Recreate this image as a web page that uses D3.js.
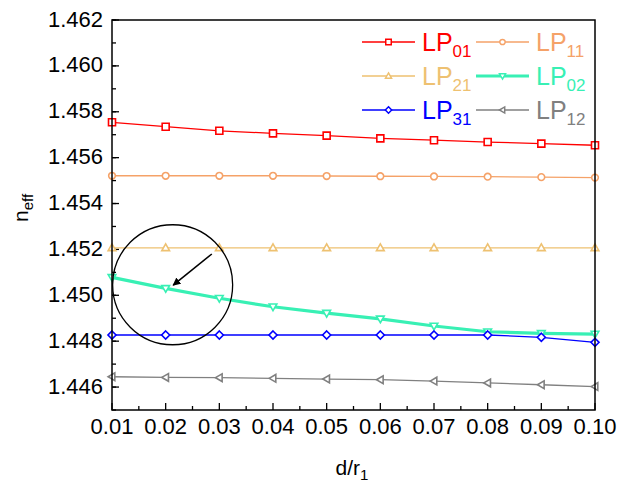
<!DOCTYPE html>
<html>
<head>
<meta charset="utf-8">
<script src="https://cdn.jsdelivr.net/npm/d3@7"></script>
<style>
  body { margin: 0; background: #fff; }
  svg { display: block; font-family: Arial, "Liberation Sans", sans-serif; }
</style>
</head>
<body>
<div id="chart"></div>
<script>
// d/r1 sample positions
const ratios = [0.01, 0.02, 0.03, 0.04, 0.05, 0.06, 0.07, 0.08, 0.09, 0.10];

// effective index of each mode
const lp01 = [1.45754, 1.45735, 1.45717, 1.45706, 1.45696, 1.45684, 1.45676, 1.45668, 1.45661, 1.45654];
const lp11 = [1.45521, 1.45521, 1.45521, 1.45521, 1.45520, 1.45519, 1.45518, 1.45517, 1.45515, 1.45513];
const lp21 = [1.45207, 1.45207, 1.45207, 1.45207, 1.45207, 1.45207, 1.45207, 1.45207, 1.45207, 1.45207];
const lp02 = [1.45078, 1.45030, 1.44987, 1.44950, 1.44922, 1.44897, 1.44866, 1.44841, 1.44834, 1.44831];
const lp31 = [1.44827, 1.44827, 1.44827, 1.44827, 1.44827, 1.44827, 1.44827, 1.44827, 1.44817, 1.44795];
const lp12 = [1.44645, 1.44642, 1.44641, 1.44638, 1.44635, 1.44632, 1.44626, 1.44618, 1.44610, 1.44602];

const modes = [
  { sub: "01", values: lp01, color: "#ff0000", shape: "square", width: 1.3 },
  { sub: "11", values: lp11, color: "#f5a268", shape: "circle", width: 1.3 },
  { sub: "21", values: lp21, color: "#eec171", shape: "triUp", width: 1.3 },
  { sub: "02", values: lp02, color: "#38f0b4", shape: "triDown", width: 3.2 },
  { sub: "31", values: lp31, color: "#0000ff", shape: "diamond", width: 1.3 },
  { sub: "12", values: lp12, color: "#808080", shape: "triLeft", width: 1.3 }
];

const yTicks = [1.446, 1.448, 1.450, 1.452, 1.454, 1.456, 1.458, 1.460, 1.462];

// annotation: circle around the LP02 start, arrow pointing at the 0.02 point
const ringCenter = [0.0213, 1.45046];
const arrowFrom = [0.0286, 1.45180];
const arrowTo = [0.0214, 1.45044];

const width = 632, height = 482;
const margin = { top: 20, right: 37, bottom: 72, left: 112 };

const x = d3.scaleLinear().domain([0.01, 0.10]).range([margin.left, width - margin.right]);
const y = d3.scaleLinear().domain([1.445, 1.462]).range([height - margin.bottom, margin.top]);

const svg = d3.select("#chart").append("svg")
  .attr("width", width)
  .attr("height", height);

svg.append("defs").append("marker")
  .attr("id", "head")
  .attr("viewBox", "0 0 10 10")
  .attr("refX", 9).attr("refY", 5)
  .attr("markerWidth", 5).attr("markerHeight", 5)
  .attr("orient", "auto")
  .append("path")
  .attr("d", "M0,0 L10,5 L0,10 Z")
  .attr("fill", "#000");

function symbolPath(shape, s) {
  const h = s / 2;
  switch (shape) {
    case "square": return `M${-h},${-h}H${h}V${h}H${-h}Z`;
    case "circle": return d3.arc()({ innerRadius: 0, outerRadius: h * 0.95, startAngle: 0, endAngle: 2 * Math.PI });
    case "triUp": return `M0,${-h * 1.1}L${h * 1.1},${h * 0.8}L${-h * 1.1},${h * 0.8}Z`;
    case "triDown": return `M0,${h * 1.1}L${h * 1.1},${-h * 0.8}L${-h * 1.1},${-h * 0.8}Z`;
    case "triLeft": return `M${-h * 1.1},0L${h * 0.8},${-h * 1.1}L${h * 0.8},${h * 1.1}Z`;
    case "diamond": return `M0,${-h * 1.15}L${h * 1.15},0L0,${h * 1.15}L${-h * 1.15},0Z`;
  }
}

// axes with inward ticks
const yMinor = d3.range(1.445, 1.4625, 0.001);
const xMinor = d3.range(0.015, 0.1, 0.01);

const ax = svg.append("g").attr("stroke", "#000").attr("stroke-width", 1.3);
ax.selectAll(".ymin").data(yMinor).join("line")
  .attr("x1", margin.left).attr("x2", margin.left + 4)
  .attr("y1", d => y(d)).attr("y2", d => y(d));
ax.selectAll(".ymaj").data(yTicks).join("line")
  .attr("x1", margin.left).attr("x2", margin.left + 7)
  .attr("y1", d => y(d)).attr("y2", d => y(d));
ax.selectAll(".xmin").data(xMinor).join("line")
  .attr("x1", d => x(d)).attr("x2", d => x(d))
  .attr("y1", y.range()[0]).attr("y2", y.range()[0] - 4);
ax.selectAll(".xmaj").data(ratios).join("line")
  .attr("x1", d => x(d)).attr("x2", d => x(d))
  .attr("y1", y.range()[0]).attr("y2", y.range()[0] - 7);

svg.append("g").attr("font-size", 22).attr("fill", "#000")
  .selectAll("text").data(yTicks).join("text")
  .attr("x", margin.left - 9)
  .attr("y", d => y(d))
  .attr("dy", "0.3em")
  .attr("text-anchor", "end")
  .text(d => d3.format(".3f")(d));

svg.append("g").attr("font-size", 22).attr("fill", "#000")
  .selectAll("text").data(ratios).join("text")
  .attr("x", d => x(d))
  .attr("y", y.range()[0] + 24)
  .attr("text-anchor", "middle")
  .text(d => d3.format(".2f")(d));

// series
const line = d3.line().x((d, i) => x(ratios[i])).y(d => y(d));
const series = svg.append("g");
modes.forEach(m => {
  series.append("path")
    .attr("d", line(m.values))
    .attr("fill", "none")
    .attr("stroke", m.color)
    .attr("stroke-width", m.width);
});
modes.forEach(m => {
  series.append("g").selectAll("path").data(m.values).join("path")
    .attr("transform", (d, i) => `translate(${x(ratios[i])},${y(d)})`)
    .attr("d", symbolPath(m.shape, 7))
    .attr("fill", "#fff")
    .attr("stroke", m.color)
    .attr("stroke-width", 1.6);
});

// frame
svg.append("rect")
  .attr("x", margin.left).attr("y", margin.top)
  .attr("width", x.range()[1] - x.range()[0])
  .attr("height", y.range()[0] - y.range()[1])
  .attr("fill", "none").attr("stroke", "#000").attr("stroke-width", 1.5);

// annotation
svg.append("circle")
  .attr("cx", x(ringCenter[0])).attr("cy", y(ringCenter[1]))
  .attr("r", 60)
  .attr("fill", "none").attr("stroke", "#000").attr("stroke-width", 1.3);
svg.append("line")
  .attr("x1", x(arrowFrom[0])).attr("y1", y(arrowFrom[1]))
  .attr("x2", x(arrowTo[0])).attr("y2", y(arrowTo[1]))
  .attr("stroke", "#000").attr("stroke-width", 1.6)
  .attr("marker-end", "url(#head)");

// legend, two columns
const legend = svg.append("g");
modes.forEach((m, i) => {
  const col = i % 2, row = Math.floor(i / 2);
  const lx = 362 + col * 114, ly = 42 + row * 34;
  const g = legend.append("g").attr("transform", `translate(${lx},${ly})`);
  g.append("line").attr("x1", 0).attr("x2", 53).attr("y1", 0).attr("y2", 0)
    .attr("stroke", m.color).attr("stroke-width", m.width);
  g.append("path").attr("transform", "translate(26.5,0)")
    .attr("d", symbolPath(m.shape, 5.5))
    .attr("fill", "#fff").attr("stroke", m.color).attr("stroke-width", 1.5);
  const t = g.append("text").attr("x", 60).attr("y", 8.5)
    .attr("font-size", 25).attr("fill", m.color);
  t.append("tspan").text("LP");
  t.append("tspan").attr("font-size", 17).attr("dy", 6).text(m.sub);
});

// axis titles
const yt = svg.append("text")
  .attr("transform", "translate(28,208) rotate(-90)")
  .attr("text-anchor", "middle")
  .attr("font-size", 21).attr("fill", "#000");
yt.append("tspan").text("n");
yt.append("tspan").attr("font-size", 15).attr("dy", 5).text("eff");

const xt = svg.append("text")
  .attr("x", 352).attr("y", 475)
  .attr("text-anchor", "middle")
  .attr("font-size", 21).attr("fill", "#000");
xt.append("tspan").text("d/r");
xt.append("tspan").attr("font-size", 15).attr("dy", 5).text("1");
</script>
</body>
</html>
